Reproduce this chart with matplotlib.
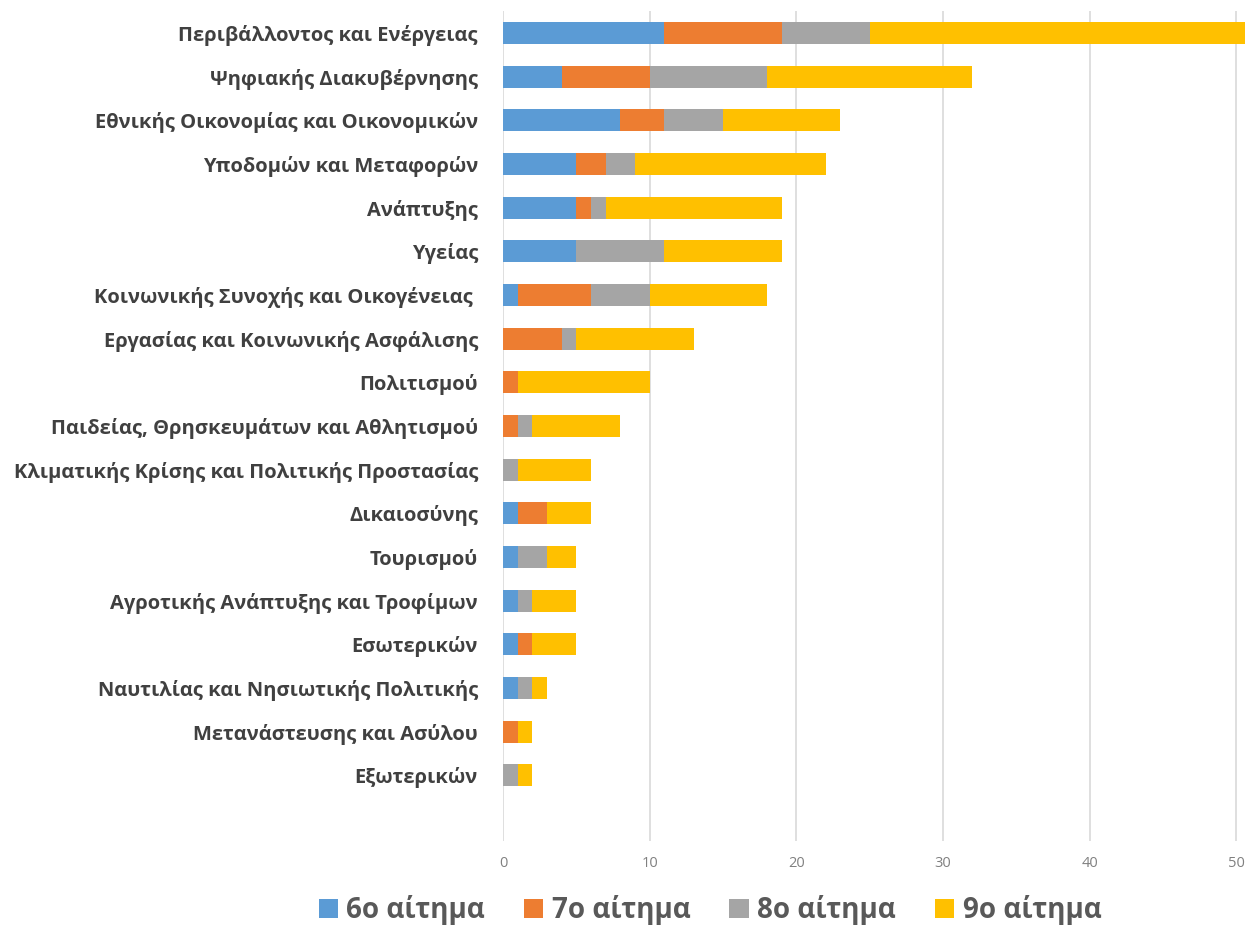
import matplotlib.pyplot as plt
import numpy as np

categories = [
    'Περιβάλλοντος και Ενέργειας',
    'Ψηφιακής Διακυβέρνησης',
    'Εθνικής Οικονομίας και Οικονομικών',
    'Υποδομών και Μεταφορών',
    'Ανάπτυξης',
    'Υγείας',
    'Κοινωνικής Συνοχής και Οικογένειας ',
    'Εργασίας και Κοινωνικής Ασφάλισης',
    'Πολιτισμού',
    'Παιδείας, Θρησκευμάτων και Αθλητισμού',
    'Κλιματικής Κρίσης και Πολιτικής Προστασίας',
    'Δικαιοσύνης',
    'Τουρισμού',
    'Αγροτικής Ανάπτυξης και Τροφίμων',
    'Εσωτερικών',
    'Ναυτιλίας και Νησιωτικής Πολιτικής',
    'Μετανάστευσης και Ασύλου',
    'Εξωτερικών',
]

aitima_6 = [11, 4, 8, 5, 5, 5, 1, 0, 0, 0, 0, 1, 1, 1, 1, 1, 0, 0]
aitima_7 = [8, 6, 3, 2, 1, 0, 5, 4, 1, 1, 0, 2, 0, 0, 1, 0, 1, 0]
aitima_8 = [6, 8, 4, 2, 1, 6, 4, 1, 0, 1, 1, 0, 2, 1, 0, 1, 0, 1]
aitima_9 = [27, 14, 8, 13, 12, 8, 8, 8, 9, 6, 5, 3, 2, 3, 3, 1, 1, 1]

series = [aitima_6, aitima_7, aitima_8, aitima_9]
labels = ['6ο αίτημα', '7ο αίτημα', '8ο αίτημα', '9ο αίτημα']
colors = ['#5B9BD5', '#ED7D31', '#A5A5A5', '#FFC000']

plt.rcParams['font.family'] = ['Open Sans', 'DejaVu Sans']

fig = plt.figure(figsize=(12.45, 9.27), dpi=100)
ax = fig.add_axes([0.404, 0.093, 0.596, 0.895])

y = np.arange(len(categories))
left = np.zeros(len(categories))
for vals, lab, col in zip(series, labels, colors):
    ax.barh(y, vals, left=left, height=0.5, color=col, label=lab, zorder=3)
    left += np.array(vals)

ax.set_ylim(len(categories) + 0.5, -0.5)
ax.set_xlim(0, 50.6)
ax.set_xticks([0, 10, 20, 30, 40, 50])
ax.set_yticks(y)
ax.set_yticklabels(categories, fontsize=14.5, fontweight='bold', color='#404040')
ax.tick_params(axis='x', colors='#808080', labelsize=10.5, length=0, pad=11)
ax.tick_params(axis='y', length=0, pad=18)
ax.grid(axis='x', color='#D9D9D9', linewidth=1.2, zorder=0)
for s in ['top', 'right', 'bottom', 'left']:
    ax.spines[s].set_visible(False)

fig.legend(loc='center', bbox_to_anchor=(710 / 1245, 1 - 910 / 927), ncol=4,
           frameon=False, prop={'size': 20, 'weight': 'bold'}, labelcolor='#595959',
           handlelength=0.7, handleheight=0.7, handletextpad=0.3, columnspacing=1.4)

plt.savefig('out.png')
plt.close()
